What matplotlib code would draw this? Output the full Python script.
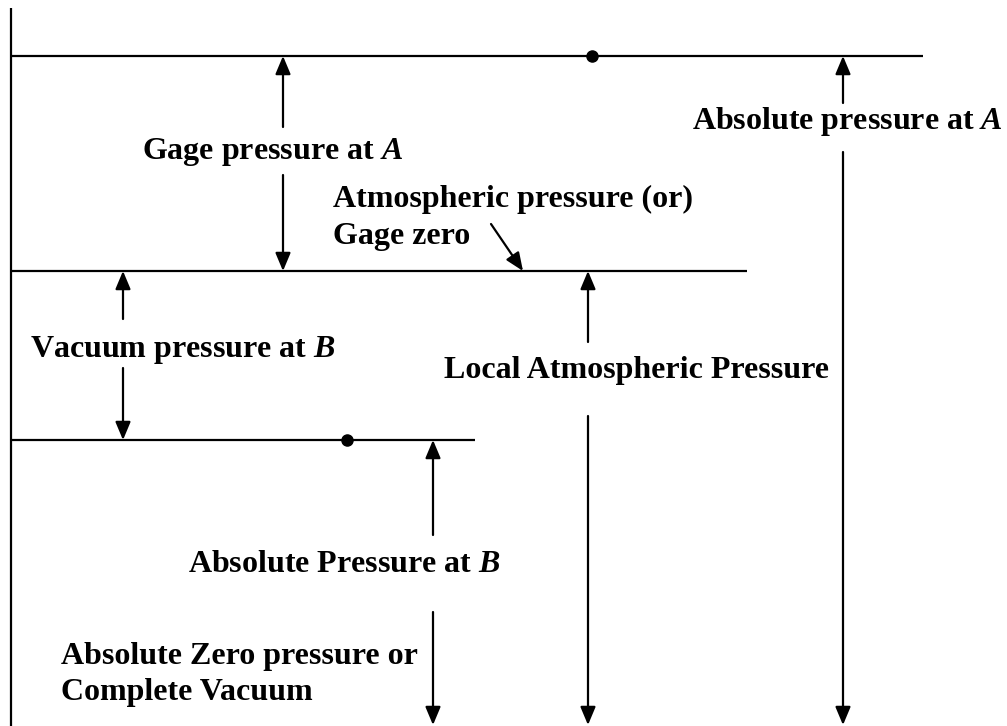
import matplotlib
matplotlib.use("Agg")
import matplotlib.pyplot as plt

plt.rcParams['font.family'] = ['Liberation Serif', 'DejaVu Serif']
plt.rcParams['mathtext.fontset'] = 'custom'
plt.rcParams['mathtext.it'] = 'Liberation Serif:bold:italic'
plt.rcParams['mathtext.rm'] = 'Liberation Serif:bold'

# Diagram coordinates (pixel-like units, y grows downward)
level_names = ["A", "atm", "B", "zero"]
level_y = [56, 271, 440, 726]
level_x_end = [923, 747, 475, None]
left_x = 11
top_y = 8
point_x = [592, 347]          # dots on level A and level B
point_level = [56, 440]

# dimension arrows
dim_x = [283, 843, 123, 588, 433]
dim_top = [56, 56, 271, 271, 440]
dim_bottom = [271, 725, 440, 725, 725]
dim_gap_top = [127, 103, 319, 342, 535]
dim_gap_bottom = [175, 152, 368, 416, 612]

labels = [r"Gage pressure at $\mathit{A}$",
          r"Absolute pressure at $\mathit{A}$",
          r"Vacuum pressure at $\mathit{B}$",
          "Local Atmospheric Pressure",
          r"Absolute Pressure at $\mathit{B}$"]
label_x = [142, 692, 30, 444, 188]
label_y = [159, 129, 357, 378, 572]

note_texts = ["Atmospheric pressure (or)", "Gage zero",
              "Absolute Zero pressure or", "Complete Vacuum"]
note_x = [333, 333, 61, 61]
note_y = [207, 244, 664, 700]
pointer_start = [(491, 224), (218, 703)]
pointer_end = [(523, 271), (250, 728)]

fig = plt.figure(figsize=(10.07, 7.26), dpi=100)
ax = fig.add_axes([0, 0, 1, 1])
ax.set_xlim(0, 1007)
ax.set_ylim(726, 0)
ax.axis('off')

lw = 1.6
# left vertical line
ax.plot([left_x, left_x], [top_y, 730], color='black', lw=lw, solid_capstyle='butt')
# horizontal levels
for y, xe in zip(level_y, level_x_end):
    if xe is not None:
        ax.plot([left_x, xe], [y, y], color='black', lw=lw, solid_capstyle='butt')
# dots
ax.plot(point_x, point_level, 'o', color='black', ms=8)

astyle = '-|>,head_length=1.0,head_width=0.42'
def arrow(x0, y0, x1, y1):
    ax.annotate('', xy=(x1, y1), xytext=(x0, y0),
                arrowprops=dict(arrowstyle=astyle, color='black', lw=lw,
                                shrinkA=0, shrinkB=0, mutation_scale=11))

for x, t, b, gt, gb in zip(dim_x, dim_top, dim_bottom, dim_gap_top, dim_gap_bottom):
    arrow(x, gt, x, t)
    arrow(x, gb, x, b)

fs = 23
for s, x, y in zip(labels, label_x, label_y):
    ax.text(x, y, s, fontsize=fs, fontweight='bold', ha='left', va='baseline')
for s, x, y in zip(note_texts, note_x, note_y):
    ax.text(x, y, s, fontsize=fs, fontweight='bold', ha='left', va='baseline')

for (x0, y0), (x1, y1) in zip(pointer_start, pointer_end):
    arrow(x0, y0, x1, y1)

fig.savefig("out.png", dpi=100)
